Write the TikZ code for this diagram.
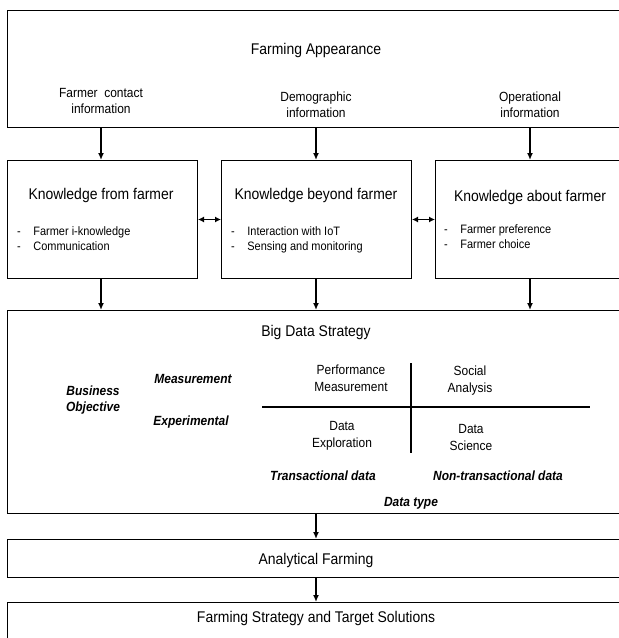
\documentclass[tikz,border=0pt]{standalone}
\usepackage{fontspec}
\setmainfont{Liberation Sans}[FakeStretch=0.9]
\usetikzlibrary{arrows.meta}
\usetikzlibrary{positioning}

\begin{document}
\begin{tikzpicture}[
        >={Latex[length=7pt,width=6pt]}, x=1pt, y=-1pt,
        box/.style={draw, line width=1pt, anchor=north west, inner sep=0pt},
        flow/.style={->, line width=1.6pt},
        link/.style={<->, line width=1.6pt, >={Latex[length=6pt,width=6pt]}},
        quadline/.style={line width=1.6pt},
        title/.style={font=\fontsize{15.5}{17}\selectfont},
        info/.style={font=\fontsize{13.3}{16}\selectfont, align=center},
        item/.style={font=\fontsize{12.2}{15}\selectfont, anchor=west, inner sep=0pt},
        axis/.style={font=\bfseries\itshape\fontsize{13.3}{16}\selectfont, align=center},
        quad/.style={font=\fontsize{13.3}{17}\selectfont, align=center},
    ]

    \useasboundingbox (0,0) rectangle (619,638);
    \clip (0,0) rectangle (619,638);

    % boxes, they run off the right and bottom edge
    \node[box, minimum width=640, minimum height=117] (appear) at (7,10) {};
    \node[box, minimum width=190, minimum height=118] (fromf) at (7,160) {};
    \node[box, minimum width=190, minimum height=118] (beyond) at (221,160) {};
    \node[box, minimum width=220, minimum height=118] (about) at (435,160) {};
    \node[box, minimum width=640, minimum height=203] (bigdata) at (7,310) {};
    \node[box, minimum width=640, minimum height=38] (analytic) at (7,539) {};
    \node[box, minimum width=640, minimum height=60] (target) at (7,602) {};

    \node[title] (appeartxt) at (316,50) {Farming Appearance};
    \node[info] (contact) at (101,101) {Farmer\ \ contact\\information};
    \node[info] (demog) at (316,105) {Demographic\\information};
    \node[info] (oper) at (530,105) {Operational\\information};

    \node[title] (fromtxt) at (101,195) {Knowledge from farmer};
    \node[title] (beyondtxt) at (316,195) {Knowledge beyond farmer};
    \node[title] (abouttxt) at (530,197) {Knowledge about farmer};

    \node[item] (fromlist) at (17,240)
        {\begin{tabular}{@{}l@{\hspace{12.5pt}}l@{}}-&Farmer i-knowledge\\-&Communication\end{tabular}};
    \node[item] (beyondlist) at (231,240)
        {\begin{tabular}{@{}l@{\hspace{12.5pt}}l@{}}-&Interaction with IoT\\-&Sensing and monitoring\end{tabular}};
    \node[item] (aboutlist) at (444,238)
        {\begin{tabular}{@{}l@{\hspace{12.5pt}}l@{}}-&Farmer preference\\-&Farmer choice\end{tabular}};

    \foreach \kb/\lab in {fromf/contact, beyond/demog, about/oper} {
        \draw[flow] (\lab |- appear.south) -- (\lab |- \kb.north);
        \draw[flow] (\lab |- \kb.south) -- (\lab |- bigdata.north);
    }
    \draw[link] (fromf.east) -- (beyond.west);
    \draw[link] (beyond.east) -- (about.west);

    % big data matrix
    \node[title] (bigtxt) at (316,332) {Big Data Strategy};
    \node[axis] (objective) at (93,400) {Business\\Objective};
    \node[axis] (measure) at (193,379) {Measurement};
    \node[axis] (experim) at (191,422) {Experimental};

    \draw[quadline] (411,363) -- (411,453);
    \draw[quadline] (262,407) -- (590,407);

    \node[quad] (perform) at (351,378) {Performance\\Measurement};
    \node[quad] (social) at (470,381) {Social\\Analysis};
    \node[quad] (explore) at (342,436) {Data\\Exploration};
    \node[quad] (science) at (471,437) {Data\\Science};

    \node[axis] (trans) at (323,476) {Transactional data};
    \node[axis] (nontrans) at (498,476) {Non-transactional data};
    \node[axis] (dtype) at (411,503) {Data type};

    \node[title] (analytictxt) at (316,560) {Analytical Farming};
    \node[title] (targettxt) at (316,618) {Farming Strategy and Target Solutions};

    \draw[flow] (demog |- bigdata.south) -- (demog |- analytic.north);
    \draw[flow] (demog |- analytic.south) -- (demog |- target.north);

\end{tikzpicture}
\end{document}
